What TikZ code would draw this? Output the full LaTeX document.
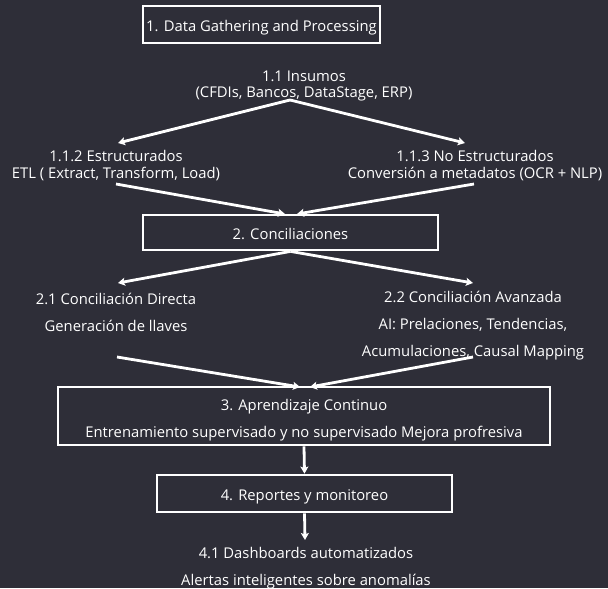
\documentclass[tikz,border=0pt]{standalone}
\usepackage{fontspec}
\setmainfont{Open Sans}
\usetikzlibrary{arrows.meta}
\definecolor{bgdark}{RGB}{46,46,56}
\tikzset{
  stage/.style={draw=white, line width=2.8pt, text=white, inner sep=0pt, text height=13pt, text depth=0pt, font=\fontsize{14.8}{16}\selectfont},
  note/.style={text=white, align=center, inner sep=0pt},
  flow/.style={white, line width=2.8pt, -{Stealth[length=7pt,width=8pt,inset=1.5pt]}}
}
\begin{document}
\begin{tikzpicture}[x=1pt,y=-1pt]
  \fill[bgdark] (0,0) rectangle (608,588);
  % stages
  \node[stage, minimum width=237pt, minimum height=37pt] (gather) at (261.5,24.5) {1. Data Gathering and Processing};
  \node[stage, minimum width=295pt, minimum height=35pt] (concil) at (290.5,232.5) {2. Conciliaciones};
  \node[stage, minimum width=492pt, minimum height=58pt, align=center, text height=, text depth=, font=\fontsize{14.8}{27}\selectfont] (learn) at (304,416)
    {\rule{0pt}{19pt}3. Aprendizaje Continuo\\Entrenamiento supervisado y no supervisado Mejora profresiva};
  \node[stage, minimum width=295pt, minimum height=37pt] (report) at (304.5,493.5) {4. Reportes y monitoreo};
  % notes
  \node[note, font=\fontsize{14.8}{16.5}\selectfont] (insumos) at (304,86) {1.1 Insumos\\(CFDIs, Bancos, DataStage, ERP)};
  \node[note, font=\fontsize{14.8}{17}\selectfont] (estruc) at (116,166) {1.1.2 Estructurados\\ETL ( Extract, Transform, Load)};
  \node[note, font=\fontsize{14.8}{17}\selectfont] (noestruc) at (475,166) {1.1.3 No Estructurados\\Conversión a metadatos (OCR + NLP)};
  \node[note, font=\fontsize{14.8}{27}\selectfont] (directa) at (116,312) {2.1 Conciliación Directa\\Generación de llaves};
  \node[note, font=\fontsize{14.8}{27}\selectfont] (avanzada) at (473,325.5) {2.2 Conciliación Avanzada\\AI: Prelaciones, Tendencias,\\Acumulaciones, Causal Mapping};
  \node[note, font=\fontsize{14.8}{27}\selectfont] (dash) at (306,568) {4.1 Dashboards automatizados\\Alertas inteligentes sobre anomalías};
  % fork and join points
  \coordinate (insFork) at (290,100);
  \coordinate (estTip) at (118,143);
  \coordinate (noestTip) at (465,143);
  \coordinate (estOut) at (116,184);
  \coordinate (noestOut) at (474,184);
  \coordinate (concilInL) at (285,214);
  \coordinate (concilInR) at (297,214);
  \coordinate (dirTip) at (118,283);
  \coordinate (avzTip) at (473,283);
  \coordinate (dirOut) at (117,357);
  \coordinate (avzOut) at (473,357);
  \coordinate (learnInL) at (300,387);
  \coordinate (learnInR) at (310,387);
  \coordinate (dashTip) at (305,540);
  % connectors
  \draw[flow] (insFork) -- (estTip);
  \draw[flow] (insFork) -- (noestTip);
  \draw[flow] (estOut) -- (concilInL);
  \draw[flow] (noestOut) -- (concilInR);
  \draw[flow] (concil.south) -- (dirTip);
  \draw[flow] (concil.south) -- (avzTip);
  \draw[flow] (dirOut) -- (learnInL);
  \draw[flow] (avzOut) -- (learnInR);
  \draw[flow] (learn.south) -- (report.north);
  \draw[flow] (report.south) -- (dashTip);
\end{tikzpicture}
\end{document}
